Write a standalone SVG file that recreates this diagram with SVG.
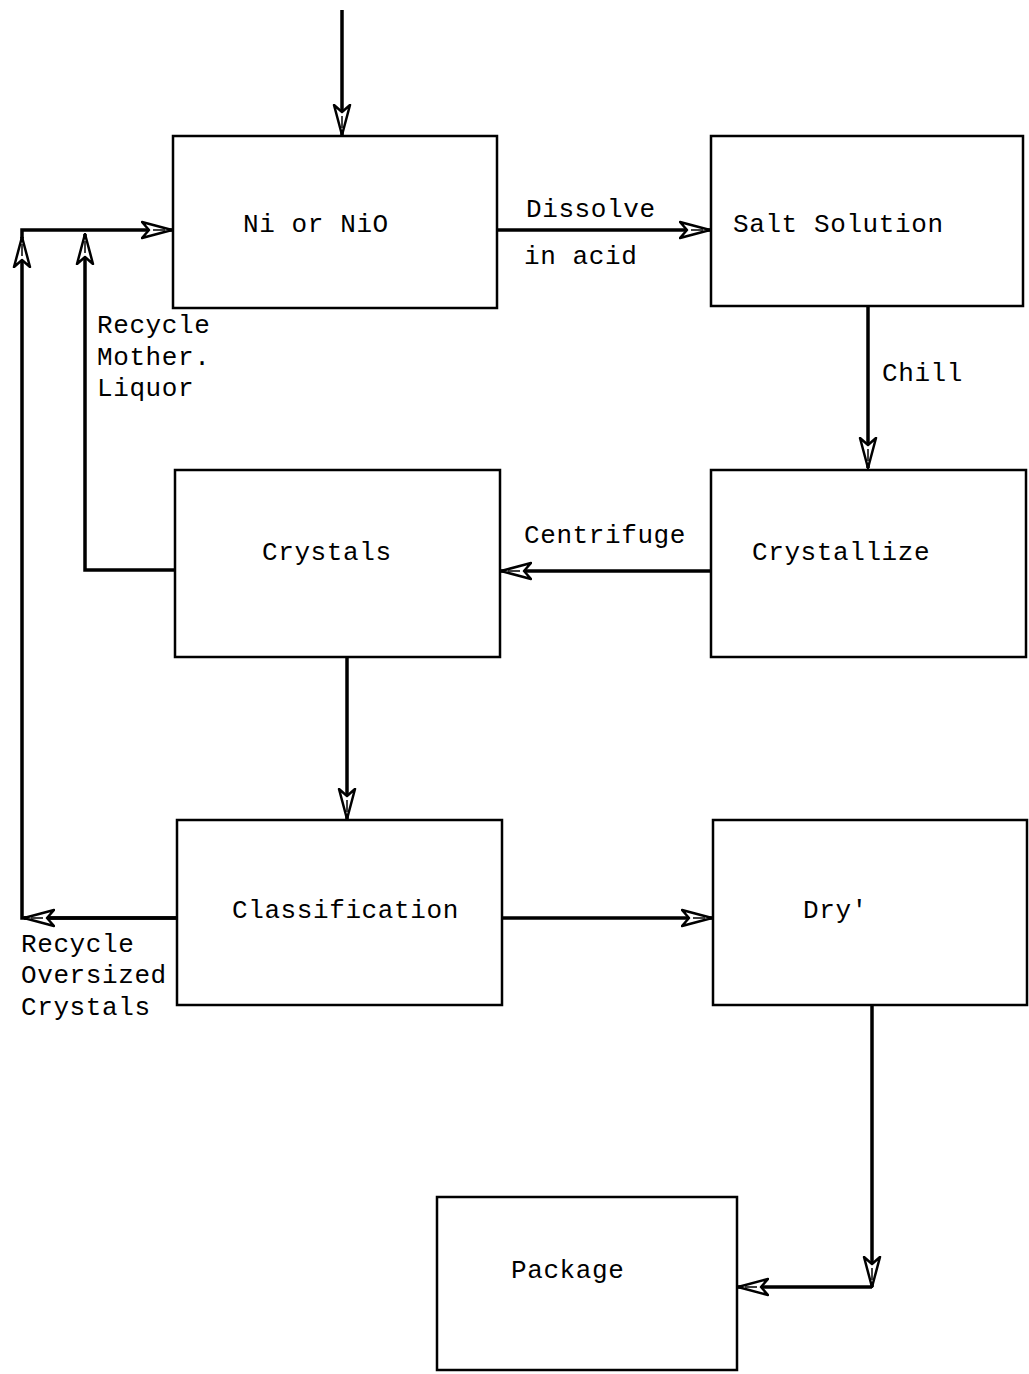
<svg xmlns="http://www.w3.org/2000/svg" width="1029" height="1374" viewBox="0 0 1029 1374">
<style>
.box{fill:none;stroke:#000;stroke-width:2.5}
.ln{fill:none;stroke:#000;stroke-width:3.5}
.t{font-family:"Liberation Mono","DejaVu Sans Mono",monospace;font-size:26px;letter-spacing:0.6px;fill:#000}
</style>
<defs>
<marker id="ah" viewBox="0 0 32 20" refX="31" refY="10" markerWidth="32" markerHeight="20" markerUnits="userSpaceOnUse" orient="auto">
<path d="M31,10 L1,2 L8,10 L1,18 Z" fill="#fff" stroke="#000" stroke-width="2.5" stroke-linejoin="round"/>
<path d="M12,10 H24" stroke="#000" stroke-width="1.5"/>
</marker>
</defs>
<rect width="1029" height="1374" fill="#fff"/>
<g id="connectors">
<path class="ln" d="M342,10 V135" marker-end="url(#ah)"/>
<path class="ln" d="M497,230 H710" marker-end="url(#ah)"/>
<path class="ln" d="M22,238 V230 H172" marker-end="url(#ah)"/>
<path class="ln" d="M177,918 H22 V237" marker-end="url(#ah)"/>
<path class="ln" d="M177,918 H24" marker-end="url(#ah)"/>
<path class="ln" d="M175,570 H85 V234" marker-end="url(#ah)"/>
<path class="ln" d="M868,306 V468" marker-end="url(#ah)"/>
<path class="ln" d="M711,571 H501" marker-end="url(#ah)"/>
<path class="ln" d="M347,657 V819" marker-end="url(#ah)"/>
<path class="ln" d="M502,918 H712" marker-end="url(#ah)"/>
<path class="ln" d="M872,1005 V1287" marker-end="url(#ah)"/>
<path class="ln" d="M872,1287 H738" marker-end="url(#ah)"/>
</g>
<g id="n-ni">
<rect class="box" x="173" y="136" width="324" height="172"/>
<text class="t" x="243" y="232">Ni or NiO</text>
</g>
<g id="n-salt">
<rect class="box" x="711" y="136" width="312" height="170"/>
<text class="t" x="733" y="232">Salt Solution</text>
</g>
<g id="n-crystals">
<rect class="box" x="175" y="470" width="325" height="187"/>
<text class="t" x="262" y="560">Crystals</text>
</g>
<g id="n-crystallize">
<rect class="box" x="711" y="470" width="315" height="187"/>
<text class="t" x="752" y="560">Crystallize</text>
</g>
<g id="n-class">
<rect class="box" x="177" y="820" width="325" height="185"/>
<text class="t" x="232" y="918">Classification</text>
</g>
<g id="n-dry">
<rect class="box" x="713" y="820" width="314" height="185"/>
<text class="t" x="803" y="918">Dry'</text>
</g>
<g id="n-package">
<rect class="box" x="437" y="1197" width="300" height="173"/>
<text class="t" x="511" y="1278">Package</text>
</g>
<g id="labels">
<text class="t" x="526" y="217">Dissolve</text>
<text class="t" x="524" y="264">in acid</text>
<text class="t" x="882" y="381">Chill</text>
<text class="t" x="524" y="543">Centrifuge</text>
<text class="t" x="97" y="333">Recycle</text>
<text class="t" x="97" y="365">Mother.</text>
<text class="t" x="97" y="396">Liquor</text>
<text class="t" x="21" y="952">Recycle</text>
<text class="t" x="21" y="983">Oversized</text>
<text class="t" x="21" y="1015">Crystals</text>
</g>
</svg>
